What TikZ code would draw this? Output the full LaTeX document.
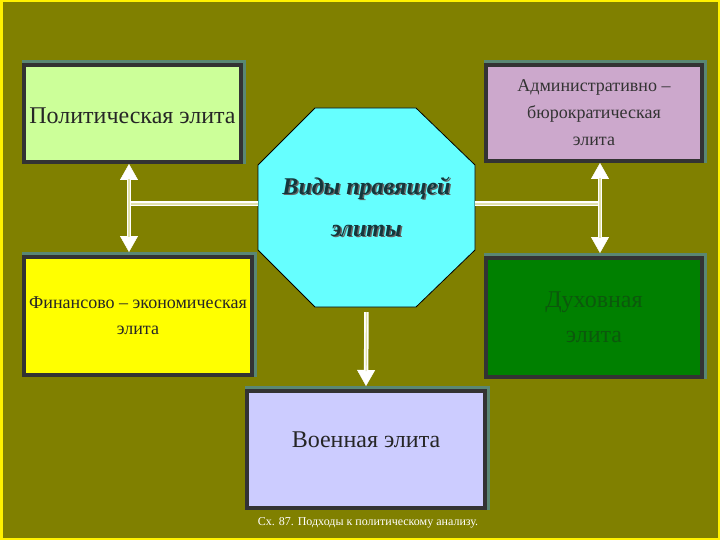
\documentclass[tikz,border=0pt]{standalone}
\usepackage{fontspec}
\setmainfont{Liberation Serif}
\usepackage{xcolor}
\usetikzlibrary{arrows.meta}

\definecolor{olivebg}{RGB}{128,128,0}
\definecolor{glow}{RGB}{90,135,115}
\definecolor{frame}{RGB}{51,51,51}
\definecolor{polfill}{RGB}{204,255,153}
\definecolor{admfill}{RGB}{204,168,204}
\definecolor{finfill}{RGB}{255,255,0}
\definecolor{spifill}{RGB}{0,128,0}
\definecolor{spitext}{RGB}{12,88,12}
\definecolor{milfill}{RGB}{204,204,255}
\definecolor{octfill}{RGB}{102,255,255}
\definecolor{octtext}{RGB}{20,55,60}
\definecolor{stripe}{RGB}{225,225,170}

\newcommand{\shadowed}[1]{\makebox[0pt][l]{\hspace{1.5pt}\raisebox{-1.5pt}{\color{gray!80!black}#1}}#1}

\begin{document}
\begin{tikzpicture}[x=1pt, y=-1pt,
    >={Triangle[width=18pt,length=16pt,line width=0.4pt]},
    elbox/.style={draw=frame, line width=4pt, inner sep=0pt, align=center,
      preaction={draw=glow, line width=7pt, transform canvas={shift={(1.5pt,1.5pt)}}}},
    shaft/.style={draw=white, line width=4.5pt},
    link/.style={draw=white, line width=5pt, postaction={draw=stripe, line width=1.5pt}}]
  % slide background
  \useasboundingbox (0,0) rectangle (720,540);
  \fill[olivebg] (0,0) rectangle (720,540);
  \draw[yellow, line width=2.5pt] (1.25,1.25) rectangle (718.75,538.75);
  % the five kinds of elite
  \node[elbox, fill=polfill, minimum width=217pt, minimum height=97pt,
        text height=24pt, text depth=3pt,
        font=\fontsize{24}{28}\selectfont, text=black!85] (pol) at (132.5,113.5) {Политическая элита};
  \node[elbox, fill=admfill, minimum width=216pt, minimum height=96pt,
        font=\fontsize{18}{27}\selectfont, text=black!80] (adm) at (594,113)
        {Административно –\\бюрократическая\\элита};
  \node[elbox, fill=finfill, minimum width=228pt, minimum height=118pt,
        font=\fontsize{18}{26}\selectfont, text=black!85] (fin) at (138,316)
        {Финансово – экономическая\\элита};
  \node[elbox, fill=spifill, minimum width=216pt, minimum height=119pt,
        font=\fontsize{24}{35}\selectfont, text=spitext] (spi) at (594,317.5) {Духовная\\элита};
  \node[elbox, fill=milfill, minimum width=238pt, minimum height=117pt,
        text height=12pt, text depth=17pt,
        font=\fontsize{24}{28}\selectfont, text=black!85] (mil) at (366,449.5) {Военная элита};
  % central octagon
  \filldraw[fill=octfill, draw=black, line width=0.8pt]
    (315,108) -- (416,108) -- (475,165) -- (475,250) -- (416,307)
    -- (315,307) -- (258,250) -- (258,165) -- cycle;
  \node[inner sep=0pt, minimum width=217pt, minimum height=199pt, align=center, text=octtext,
        font=\fontsize{24}{42}\selectfont\bfseries\itshape] (oct) at (366.5,207.5)
        {\shadowed{Виды правящей}\\\shadowed{элиты}};
  % links
  \coordinate (lx) at (129,204);
  \coordinate (rx) at (600,204);
  \draw[link] (lx) -- (lx -| oct.west);
  \draw[link] (oct.east |- rx) -- (rx);
  \draw[shaft, <->, shorten >=3pt,
        postaction={draw=stripe, line width=1.2pt, arrows=-, shorten <=15pt, shorten >=18pt}]
        (pol.south -| lx) -- (fin.north -| lx);
  \draw[shaft, <->, shorten >=3pt,
        postaction={draw=stripe, line width=1.2pt, arrows=-, shorten <=15pt, shorten >=18pt}]
        (adm.south -| rx) -- (spi.north -| rx);
  \draw[shaft, ->, shorten <=5pt, shorten >=3pt,
        postaction={draw=stripe, line width=1.2pt, arrows=-, shorten <=5pt, shorten >=18pt}]
        (oct.south) -- (mil.north);
  % caption
  \node[text=white, font=\fontsize{12}{14}\selectfont] (cap) at (368,523)
        {Сх. 87. Подходы к политическому анализу.};
\end{tikzpicture}
\end{document}
